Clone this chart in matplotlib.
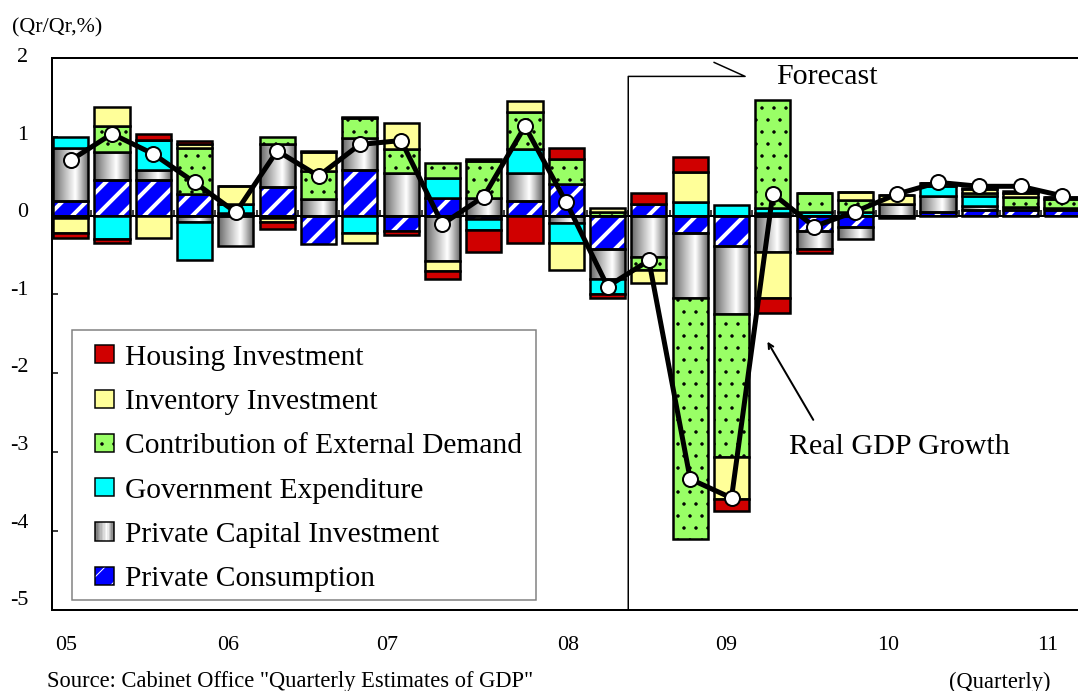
import numpy as np
import matplotlib
matplotlib.use("Agg")
import matplotlib.pyplot as plt
import matplotlib.transforms as mtransforms
from matplotlib.patches import Rectangle, Patch
from matplotlib.legend_handler import HandlerBase, HandlerTuple

# ---------------- data ----------------
quarters = ["05Q1", "05Q2", "05Q3", "05Q4", "06Q1", "06Q2", "06Q3", "06Q4",
            "07Q1", "07Q2", "07Q3", "07Q4", "08Q1", "08Q2", "08Q3", "08Q4",
            "09Q1", "09Q2", "09Q3", "09Q4", "10Q1", "10Q2", "10Q3", "10Q4",
            "11Q1"]

private_consumption = [0.19, 0.45, 0.45, 0.27, 0.03, 0.36, -0.36, 0.58,
                       -0.20, 0.22, -0.04, 0.19, 0.40, -0.43, 0.15, -0.22,
                       -0.39, 0.03, -0.20, -0.15, -0.03, 0.04, 0.07, 0.07, 0.07]
private_capital = [0.67, 0.36, 0.13, -0.08, -0.39, 0.55, 0.21, 0.40,
                   0.54, -0.58, 0.22, 0.35, -0.09, -0.37, -0.53, -0.82,
                   -0.86, -0.46, -0.23, -0.15, 0.14, 0.21, 0.05, 0.04, 0.02]
government = [0.13, -0.30, 0.38, -0.48, 0.12, -0.03, 0.00, -0.22,
              0.00, 0.25, -0.15, 0.30, -0.26, -0.20, 0.00, 0.17,
              0.13, 0.07, 0.04, 0.04, 0.00, 0.12, 0.13, 0.00, 0.00]
external_demand = [-0.03, 0.33, 0.00, 0.58, 0.00, 0.08, 0.35, 0.25,
                   0.30, 0.20, 0.47, 0.47, 0.31, 0.04, -0.16, -3.06,
                   -1.81, 1.37, 0.25, 0.16, 0.00, 0.04, 0.03, 0.13, 0.12]
inventory = [-0.19, 0.24, -0.28, 0.06, 0.22, -0.05, 0.24, -0.13,
             0.33, -0.12, 0.02, 0.14, -0.34, 0.05, -0.17, 0.38,
             -0.53, -0.59, 0.00, 0.10, 0.12, 0.00, 0.05, 0.05, 0.02]
housing = [-0.07, -0.05, 0.07, 0.03, 0.00, -0.09, 0.02, 0.02,
           -0.05, -0.11, -0.27, -0.35, 0.15, -0.04, 0.13, 0.19,
           -0.15, -0.19, -0.04, 0.00, 0.00, 0.00, 0.02, 0.02, 0.00]
real_gdp = [0.70, 1.035, 0.78, 0.42, 0.04, 0.82, 0.50, 0.90,
            0.95, -0.11, 0.24, 1.13, 0.165, -0.90, -0.57, -3.34,
            -3.58, 0.275, -0.14, 0.05, 0.27, 0.42, 0.37, 0.37, 0.25]

year_labels = ["05", "06", "07", "08", "09", "10", "11"]
year_label_pos = [-0.1, 3.8, 7.65, 12.04, 15.87, 19.79, 23.66]
y_ticks = [2, 1, 0, -1, -2, -3, -4, -5]
forecast_start = 13.5

legend_labels = ["Housing Investment", "Inventory Investment",
                 "Contribution of External Demand", "Government Expenditure",
                 "Private Capital Investment", "Private Consumption"]

# ---------------- style ----------------
plt.rcParams["font.family"] = ["Liberation Serif", "DejaVu Serif"]
DPI = 72
W, H = 1078, 691
fig = plt.figure(figsize=(W / DPI, H / DPI), dpi=DPI)

ax_left, ax_right, ax_top, ax_bottom = 52, 1078, 57.7, 610
ax = fig.add_axes([ax_left / W, 1 - ax_bottom / H,
                   (ax_right - ax_left) / W, (ax_bottom - ax_top) / H])

x = np.arange(len(quarters))
bw = 0.85

C_HOUS = "#D00000"
C_INV = "#FFFF99"
C_EXT = "#99FF66"
C_GOV = "#00FFFF"
C_CONS = "#0000FF"
EDGE_LW = 2.5


def cyl(t):
    t = np.asarray(t, dtype=float)
    p = 0.62
    left = 0.38 + 0.62 * (np.clip(t / p, 0, 1)) ** 0.9
    right = 1 - 0.62 * (np.clip((t - p) / (1 - p), 0, 1)) ** 1.1
    return np.where(t < p, left, right)


grad = cyl(np.linspace(0, 1, 64))
grad_img = np.dstack([grad, grad, grad]).reshape(1, 64, 3)

series = [private_consumption, private_capital, government,
          external_demand, inventory, housing]
pos_bottom = np.zeros(len(x))
neg_bottom = np.zeros(len(x))
bottoms = []
for s in series:
    v = np.asarray(s, dtype=float)
    b = np.where(v >= 0, pos_bottom, neg_bottom)
    bottoms.append(b.copy())
    pos_bottom = pos_bottom + np.where(v >= 0, v, 0)
    neg_bottom = neg_bottom + np.where(v < 0, v, 0)


def set_hlw(container, lw):
    for p in container.patches:
        if hasattr(p, "set_hatch_linewidth"):
            p.set_hatch_linewidth(lw)


# Private consumption: blue with white stripes
with plt.rc_context({"hatch.linewidth": 4.0}):
    bc = ax.bar(x, private_consumption, bw, bottom=bottoms[0], facecolor=C_CONS,
                edgecolor="white", hatch="/", linewidth=0, zorder=2)
set_hlw(bc, 4.0)
ax.bar(x, private_consumption, bw, bottom=bottoms[0], facecolor="none",
       edgecolor="black", linewidth=EDGE_LW, zorder=3)

# Private capital investment: cylinder gradient
for xi, v, b in zip(x, private_capital, bottoms[1]):
    if v == 0:
        continue
    ax.imshow(grad_img, extent=(xi - bw / 2, xi + bw / 2, b, b + v),
              aspect="auto", interpolation="bilinear", zorder=2)
ax.bar(x, private_capital, bw, bottom=bottoms[1], facecolor="none",
       edgecolor="black", linewidth=EDGE_LW, zorder=3)

# Government expenditure
ax.bar(x, government, bw, bottom=bottoms[2], facecolor=C_GOV,
       edgecolor="black", linewidth=EDGE_LW, zorder=3)

# External demand: green with dots
with plt.rc_context({"hatch.linewidth": 1.0}):
    be = ax.bar(x, external_demand, bw, bottom=bottoms[3], facecolor=C_EXT,
                edgecolor="black", hatch=".", linewidth=EDGE_LW, zorder=3)
set_hlw(be, 1.0)

# Inventory
ax.bar(x, inventory, bw, bottom=bottoms[4], facecolor=C_INV,
       edgecolor="black", linewidth=EDGE_LW, zorder=3)
# Housing
ax.bar(x, housing, bw, bottom=bottoms[5], facecolor=C_HOUS,
       edgecolor="black", linewidth=EDGE_LW, zorder=3)

# zero line with small category ticks
ax.axhline(0, color="black", lw=2, zorder=4)
ax.plot(np.arange(len(x) - 1) + 0.5, np.zeros(len(x) - 1), ls="none",
        marker=2, ms=6, mew=1.5, color="black", zorder=4)

# Real GDP line
ax.plot(x, real_gdp, color="black", lw=5, marker="o", ms=15,
        mfc="white", mec="black", mew=2, zorder=6)

# axes
ax.set_xlim((ax_left - 70.7) / 41.3, (ax_right - 70.7) / 41.3)
ax.set_ylim(-5, 2)
ax.set_xticks([])
ax.set_yticks(y_ticks)
ax.tick_params(axis="y", direction="in", length=6, width=1.5, labelleft=False)
for side in ["left", "top", "bottom"]:
    ax.spines[side].set_linewidth(2)
    ax.spines[side].set_color("black")
ax.spines["right"].set_visible(False)

# y tick labels (slightly raised, as in the source)
for t in y_ticks:
    off_px = 0.2 + (2 - t) * 1.29
    off = mtransforms.ScaledTranslation(0, off_px / 72, fig.dpi_scale_trans)
    ax.text((28.3 - ax_left) / (ax_right - ax_left), t, f"{t}",
            transform=ax.get_yaxis_transform() + off,
            ha="right", va="center", fontsize=22)

# year labels
for lab, p in zip(year_labels, year_label_pos):
    ax.text(p, (ax_bottom - 645) / (ax_bottom - ax_top), lab,
            transform=ax.get_xaxis_transform(), ha="center", va="center",
            fontsize=22)

# forecast bracket
ax.plot([forecast_start, forecast_start, 16.33, 15.58], [-5, 1.763, 1.763, 1.94],
        color="black", lw=1.5, zorder=5, clip_on=False)
ax.text(18.32, 1.75, "Forecast", ha="center", va="center", fontsize=30)

# Real GDP annotation
ax.annotate("", xy=(16.87, -1.598), xytext=(17.98, -2.59),
            arrowprops=dict(arrowstyle="->,head_length=0.5,head_width=0.25",
                            lw=2, color="black", shrinkA=0, shrinkB=0))
ax.text(17.39, -2.935, "Real GDP Growth", ha="left", va="center", fontsize=30)

# texts outside
fig.text(12 / W, 1 - 28 / H, "(Qr/Qr,%)", ha="left", va="center", fontsize=22)
fig.text(47 / W, 1 - 682 / H, 'Source: Cabinet Office "Quarterly Estimates of GDP"',
         ha="left", va="center", fontsize=22.5)
fig.text(1051 / W, 1 - 682 / H, "(Quarterly)", ha="right", va="center",
         fontsize=22.5)


# legend
class GradientHandler(HandlerBase):
    def create_artists(self, legend, orig_handle, xdescent, ydescent,
                       width, height, fontsize, trans):
        n = 14
        arts = []
        for k in range(n):
            g = float(cyl((k + 0.5) / n))
            arts.append(Rectangle((-xdescent + width * k / n, -ydescent),
                                  width / n, height, facecolor=(g, g, g),
                                  edgecolor="none", transform=trans))
        arts.append(Rectangle((-xdescent, -ydescent), width, height,
                              facecolor="none", edgecolor="black", lw=1.5,
                              transform=trans))
        return arts


class GradTag:
    pass


h_hous = Patch(facecolor=C_HOUS, edgecolor="black", lw=1.5)
h_inv = Patch(facecolor=C_INV, edgecolor="black", lw=1.5)
with plt.rc_context({"hatch.linewidth": 1.0}):
    h_ext = Patch(facecolor=C_EXT, edgecolor="black", lw=1.5, hatch=".")
h_gov = Patch(facecolor=C_GOV, edgecolor="black", lw=1.5)
h_cap = GradTag()
with plt.rc_context({"hatch.linewidth": 4.0}):
    h_cons_fill = Patch(facecolor=C_CONS, edgecolor="white", lw=0, hatch="/")
h_cons_edge = Patch(facecolor="none", edgecolor="black", lw=1.5)

frame = Rectangle((71.7 / W, 1 - 600 / H), (535.7 - 71.7) / W, (600 - 330) / H,
                  transform=fig.transFigure, facecolor="white",
                  edgecolor="#808080", lw=1.5, zorder=3)
fig.add_artist(frame)

fs = 29.5
leg = fig.legend([h_hous, h_inv, h_ext, h_gov, h_cap, (h_cons_fill, h_cons_edge)],
                 legend_labels, loc="center left",
                 bbox_to_anchor=(95 / W, 1 - 468.5 / H),
                 bbox_transform=fig.transFigure, frameon=False, fontsize=fs,
                 borderpad=0, borderaxespad=0, handlelength=19 / fs,
                 handleheight=17 / fs, handletextpad=11 / fs, labelspacing=0.62,
                 handler_map={GradTag: GradientHandler(),
                              tuple: HandlerTuple(ndivide=1, pad=0)})
leg.set_zorder(4)

fig.savefig("out.png", dpi=DPI)
